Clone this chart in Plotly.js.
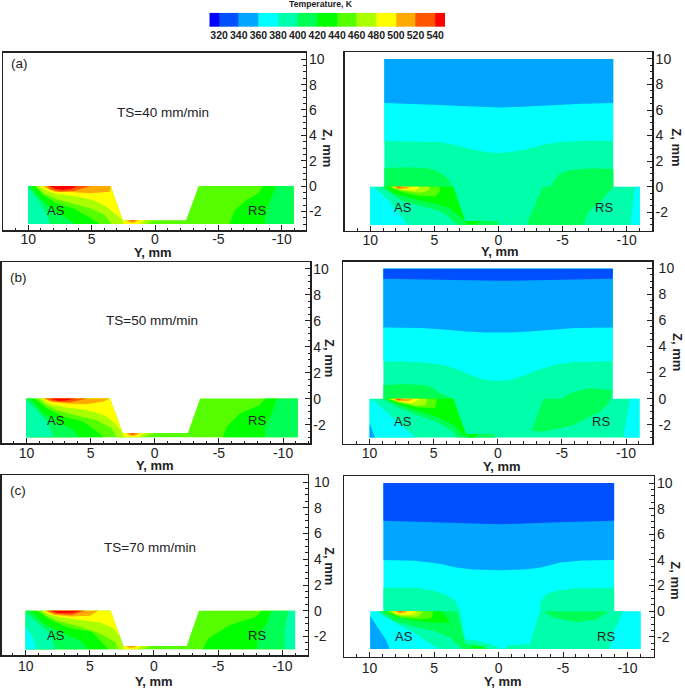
<!DOCTYPE html>
<html><head><meta charset="utf-8">
<script src="https://cdn.plot.ly/plotly-3.0.1.min.js"></script>
<style>html,body{margin:0;padding:0;background:#fff}#chart{width:685px;height:689px}</style>
</head><body><div id="chart"></div>
<script>
const C320='#0050ff',C340='#00a5ff',C360='#00ffff',C380='#00ffaa',C400='#00ff55',C420='#00ff00',C440='#55ff00',C460='#aaff00',C480='#ffff00',C500='#ffaa00',C520='#ff5500',C540='#ff0000';
const bandEdges=[310,320,340,360,380,400,420,440,460,480,500,520,540,550];
const bandIndex=[0,1,2,3,4,5,6,7,8,9,10,11,12];
const bandColors=['#0000ff',C320,C340,C360,C380,C400,C420,C440,C460,C480,C500,C520,C540];
const legendTicks=[320,340,360,380,400,420,440,460,480,500,520,540];

// (a) left
const aL_base=[[10,0],[3.5,0],[2.55,-2.7],[-2.45,-2.7],[-3.45,0],[-10.95,0],[-10.95,-3],[10,-3]];
const aL_420=[[10,0],[9.47,0],[8.82,-.71],[7.76,-1.37],[6.45,-1.76],[5.26,-2.42],[4.39,-3],[10,-3]];
const aL_400=[[10,0],[9.82,0],[9.08,-.97],[8.03,-1.89],[7.1,-2.42],[6.32,-3],[10,-3]];
const aL_380=[[10,-.1],[9.21,-1.1],[8.55,-2.16],[8.29,-3],[10,-3]];
const aL_460=[[9.39,0],[3.5,0],[2.55,-2.7],[2.37,-3],[3.42,-3],[3.95,-2.29],[5.13,-1.76],[6.58,-1.37],[7.76,-1.05],[8.82,-.58]];
const aL_480=[[9.13,0],[3.5,0],[2.55,-2.7],[3.16,-2.16],[3.82,-1.63],[4.87,-1.1],[6.45,-.79],[7.76,-.63],[8.55,-.37]];
const aL_500=[[8.8,0],[3.5,0],[3.55,-.45],[5.13,-.58],[6.71,-.47],[7.89,-.45],[8.55,-.18]];
const aL_520=[[8.5,0],[8.29,-.26],[7.5,-.45],[6.32,-.37],[5.13,0]];
const aL_540=[[8.29,0],[7.9,-.21],[7.25,-.32],[6.6,-.21],[6.13,0]];
const aL_g460=[[2.55,-2.7],[.13,-2.7],[.65,-3],[3.2,-3]];
const aL_g480=[[2.55,-2.7],[.8,-2.7],[1.2,-3],[2.5,-3]];
const aL_g500=[[2.3,-2.7],[1.3,-2.7],[1.6,-2.87],[2,-2.87]];
const aL_g520=[[2,-2.7],[1.5,-2.7],[1.75,-2.8]];
const aL_r420=[[-8.5,0],[-8.16,-.58],[-7.24,-1.1],[-6.3,-1.89],[-5.87,-3],[-8.68,-3],[-8.8,-1.89],[-9.2,-.84],[-9.55,0]];
const aL_r400=[[-9.55,0],[-10.95,0],[-10.95,-3],[-8.68,-3],[-8.8,-1.89],[-9.2,-.84]];
const aL_layers=[[C440,aL_base],[C420,aL_420],[C400,aL_400],[C380,aL_380],[C460,aL_460],[C480,aL_480],[C500,aL_500],[C520,aL_520],[C540,aL_540],[C460,aL_g460],[C480,aL_g480],[C500,aL_g500],[C520,aL_g520],[C420,aL_r420],[C400,aL_r400]];

// (a) right
const outlineA=[[8.9,10],[-8.95,10],[-8.95,0],[-11.03,0],[-11.03,-3],[10,-3],[10,0],[8.9,0]];
const aR_cyan=[[8.9,3.58],[6,3.56],[4.55,3.5],[3.5,3.28],[2.2,2.95],[1,2.72],[0,2.64],[-1,2.72],[-2.2,2.95],[-3.5,3.28],[-4.8,3.5],[-6.5,3.58],[-8.95,3.6],[-8.95,10],[8.9,10]];
const aR_blue=[[8.9,6.55],[6.5,6.5],[4.55,6.4],[3,6.32],[1.5,6.24],[0,6.2],[-1.5,6.24],[-3,6.32],[-4.5,6.42],[-6.5,6.5],[-8.95,6.55],[-8.95,10],[8.9,10]];
const aR_400=[[8.9,1.44],[7.15,1.51],[5.6,1.44],[5,1.3],[4.55,1.1],[4.1,.75],[3.77,.39],[3.25,-.78],[2.6,-2.69],[0,-2.69],[0,-3],[3.25,-3],[4.03,-2.22],[4.81,-1.83],[6.37,-1.44],[7.67,-1.04],[9.1,0],[8.9,0]];
const aR_420=[[8.84,0],[8.19,-.52],[6.37,-1.04],[4.94,-1.31],[3.77,-1.7],[2.6,-2.74],[3.51,0]];
const aR_s420=[[2.5,-2.69],[1.2,-2.69],[1.8,-2.95],[2.6,-2.95]];
const aR_440=[[8.58,0],[7.67,-.39],[6.37,-.7],[4.94,-.78],[4.55,-.39],[4.6,0]];
const aR_460=[[8.45,0],[7.54,-.31],[6.11,-.47],[5.38,-.31],[5.38,0]];
const aR_480=[[8.32,0],[7.41,-.26],[6.5,-.31],[6.11,0]];
const aR_500=[[8.19,0],[7.8,-.18],[7.15,-.16],[6.89,0]];
const aR_520=[[8.06,0],[7.8,-.1],[7.41,0]];
const aR_c360=[[10,0],[10,-3],[7.1,-3],[7.67,-2.22],[8.71,-.91],[9.62,-.13]];
const aR_r400=[[-2.26,-2.79],[-2.47,-3],[-6.63,-3],[-7.02,-1.96],[-7.93,-1.17],[-8.97,0],[-8.97,1.38],[-7.15,1.44],[-5.72,1.31],[-5.1,1.15],[-4.68,.91],[-4.03,0],[-3.46,0]];
const aR_r360=[[-10.66,0],[-10.27,-3],[-11.03,-3],[-11.03,0]];
const aR_layers=[[C380,outlineA],[C360,aR_cyan],[C340,aR_blue],[C400,aR_400],[C420,aR_420],[C420,aR_s420],[C440,aR_440],[C460,aR_460],[C480,aR_480],[C500,aR_500],[C520,aR_520],[C360,aR_c360],[C400,aR_r400],[C360,aR_r360]];

// (b) left
const bL_base=[[10,0],[3.49,0],[2.5,-2.65],[-2.58,-2.65],[-3.54,0],[-11.15,0],[-11.15,-2.97],[10,-2.97]];
const bL_420=[[10,0],[9.35,0],[8.44,-.74],[7.14,-1.38],[5.57,-1.77],[4.66,-2.41],[4,-2.97],[10,-2.97]];
const bL_400=[[10,0],[9.74,0],[8.7,-1.13],[7.53,-1.9],[6.5,-2.28],[5.9,-2.97],[10,-2.97]];
const bL_380=[[10,-.1],[9.2,-.87],[8.3,-1.9],[7.9,-2.97],[10,-2.97]];
const bL_460=[[9.09,0],[3.49,0],[2.5,-2.65],[2.35,-2.97],[2.97,-2.97],[3.36,-2.28],[4.53,-1.64],[6.1,-1.3],[7.66,-.87],[8.57,-.44]];
const bL_480=[[8.83,0],[3.49,0],[2.5,-2.65],[3.1,-1.9],[3.88,-1.3],[5.31,-.87],[6.88,-.69],[8.18,-.44]];
const bL_500=[[8.7,0],[3.49,0],[4,-.23],[5.31,-.44],[6.88,-.38],[8.18,-.23]];
const bL_520=[[8.57,0],[7.9,-.23],[6.6,-.28],[5.26,0]];
const bL_540=[[8.18,0],[7.5,-.18],[6.9,-.15],[6.2,0]];
const bL_g460=[[2.5,-2.65],[.1,-2.65],[.9,-2.97],[3.1,-2.97]];
const bL_g480=[[2.5,-2.65],[.8,-2.65],[1.2,-2.97],[2.4,-2.97]];
const bL_g500=[[2.2,-2.65],[1.2,-2.65],[1.5,-2.85],[1.95,-2.85]];
const bL_g520=[[1.95,-2.65],[1.5,-2.65],[1.7,-2.8]];
const bL_r420=[[-8.6,0],[-8.2,-.49],[-6.66,-1.13],[-5.63,-2.15],[-5.3,-2.97],[-8.6,-2.97],[-8.6,-2.15],[-9.14,-1.13],[-9.53,0]];
const bL_r400=[[-9.53,0],[-11.15,0],[-11.15,-2.97],[-8.6,-2.97],[-8.6,-2.15],[-9.14,-1.13]];
const bL_layers=[[C440,bL_base],[C420,bL_420],[C400,bL_400],[C380,bL_380],[C460,bL_460],[C480,bL_480],[C500,bL_500],[C520,bL_520],[C540,bL_540],[C460,bL_g460],[C480,bL_g480],[C500,bL_g500],[C520,bL_g520],[C420,bL_r420],[C400,bL_r400]];

// (b) right
const outlineB=[[8.92,9.95],[-8.97,9.95],[-8.97,0],[-11.05,0],[-11.05,-2.97],[10,-2.97],[10,0],[8.92,0]];
const bR_cyan=[[8.92,2.84],[7.1,2.84],[5.5,2.75],[4.2,2.55],[3.2,2.25],[2,1.75],[1,1.45],[0,1.36],[-1,1.45],[-2,1.75],[-3.3,2.25],[-4.5,2.6],[-5.9,2.79],[-7.5,2.87],[-8.97,2.89],[-8.97,9.95],[8.92,9.95]];
const bR_340=[[8.92,5.45],[6,5.42],[4,5.28],[2.5,5.14],[1,5.06],[0,5.04],[-1,5.06],[-2.5,5.14],[-4,5.28],[-6,5.42],[-8.97,5.45],[-8.97,9.95],[8.92,9.95]];
const bR_320=[[8.92,9.18],[5,9.12],[2,9.05],[0,9.03],[-2,9.05],[-5,9.12],[-8.97,9.18],[-8.97,9.95],[8.92,9.95]];
const bR_400=[[8.92,1.05],[7.1,1.13],[5.54,1],[5,.78],[4.5,.41],[3.46,0],[3.2,-.74],[2.47,-2.71],[.34,-2.71],[.2,-2.97],[3.2,-2.97],[3.46,-2.53],[4.76,-1.76],[6.32,-1.25],[7.62,-.74],[9.05,0],[8.92,0]];
const bR_420=[[8.79,0],[7.62,-.49],[6.06,-1],[4.76,-1.38],[3.46,-2.02],[2.55,-2.92],[2.47,-2.79],[3.2,-.74],[3.46,0]];
const bR_s420=[[2.47,-2.71],[1.5,-2.71],[1.9,-2.97],[2.3,-2.97]];
const bR_440=[[8.66,0],[7.62,-.36],[6.32,-.66],[4.89,-.74],[4.76,0]];
const bR_460=[[8.5,0],[7.62,-.28],[6.32,-.54],[5.59,-.49],[5.54,0]];
const bR_480=[[8.3,0],[7.7,-.23],[6.7,-.36],[6.06,0]];
const bR_500=[[8.15,0],[7.8,-.18],[7,-.2],[6.58,0]];
const bR_520=[[8,0],[7.75,-.13],[7.36,0]];
const bR_c360=[[10,0],[10,-2.97],[6.45,-2.97],[7.36,-2.15],[8.66,-1],[9.57,-.23]];
const bR_c340=[[10,-1.9],[9.57,-2.97],[10,-2.97]];
const bR_r400=[[-2.63,-2.46],[-3.56,0],[-5,0],[-5.64,.41],[-7.07,.79],[-8.89,.66],[-8.8,0],[-8.63,-.36],[-7.98,-1],[-5.9,-2.02],[-3.56,-2.53]];
const bR_r360=[[-10.33,0],[-9.8,-2.97],[-11.05,-2.97],[-11.05,0]];
const bR_layers=[[C380,outlineB],[C360,bR_cyan],[C340,bR_340],[C320,bR_320],[C400,bR_400],[C420,bR_420],[C420,bR_s420],[C440,bR_440],[C460,bR_460],[C480,bR_480],[C500,bR_500],[C520,bR_520],[C360,bR_c360],[C340,bR_c340],[C400,bR_r400],[C360,bR_r360]];

// (c) left
const cL_base=[[10,0],[3.38,0],[2.39,-2.74],[-2.55,-2.74],[-3.5,0],[-11,0],[-11,-3],[10,-3]];
const cL_420=[[10,0],[9.14,0],[8.1,-.71],[6.55,-1.37],[4.86,-1.63],[4.08,-2.42],[3.56,-3],[10,-3]];
const cL_400=[[10,0],[9.66,0],[8.62,-.97],[7.06,-1.76],[5.77,-2.29],[5.1,-3],[10,-3]];
const cL_380=[[10,-.18],[9,-.97],[8.1,-1.76],[7.7,-3],[10,-3]];
const cL_360=[[10,-1.24],[9.4,-2.16],[9.2,-3],[10,-3]];
const cL_460=[[8.88,0],[3.38,0],[2.39,-2.74],[2.4,-3],[2.78,-3],[3.04,-2.42],[4.2,-1.76],[5.77,-1.24],[7.58,-.76],[8.5,-.32]];
const cL_480=[[8.68,0],[3.38,0],[2.65,-2.03],[3.17,-1.37],[4.2,-.92],[5.77,-.71],[7.32,-.5],[8.23,-.26]];
const cL_500=[[8.5,0],[4.34,0],[4.99,-.39],[6.55,-.45],[7.84,-.32]];
const cL_520=[[8.36,0],[7.7,-.24],[6.4,-.34],[5.38,0]];
const cL_540=[[8.1,0],[7.45,-.18],[6.4,-.18],[5.64,0]];
const cL_g460=[[2.39,-2.74],[.3,-2.74],[.8,-3],[2.78,-3]];
const cL_g480=[[2.39,-2.74],[1,-2.74],[1.3,-3],[2.4,-3]];
const cL_g500=[[2.2,-2.74],[1.3,-2.74],[1.6,-2.88],[1.95,-2.88]];
const cL_r420=[[-8.39,0],[-8,-.45],[-5.92,-1.1],[-4.23,-2.16],[-3.79,-3],[-8,-3],[-8.13,-2.03],[-8.78,-.97],[-9.17,0]];
const cL_r400=[[-9.17,0],[-10.47,0],[-10.2,-1.5],[-10.2,-3],[-8,-3],[-8.13,-2.03],[-8.78,-.97]];
const cL_r380=[[-10.47,0],[-11,0],[-11,-3],[-10.2,-3],[-10.2,-1.5]];
const cL_layers=[[C440,cL_base],[C420,cL_420],[C400,cL_400],[C380,cL_380],[C360,cL_360],[C460,cL_460],[C480,cL_480],[C500,cL_500],[C520,cL_520],[C540,cL_540],[C460,cL_g460],[C480,cL_g480],[C500,cL_g500],[C420,cL_r420],[C400,cL_r400],[C380,cL_r380]];

// (c) right
const outlineC=[[8.92,10],[-8.96,10],[-8.96,0],[-11.03,0],[-11.03,-2.95],[9.95,-2.95],[9.95,0],[8.92,0]];
const cR_340=[[8.92,4],[6.5,3.93],[4.57,3.7],[3.3,3.42],[2,3.26],[0,3.19],[-2,3.26],[-3.3,3.42],[-4.8,3.8],[-6.5,3.96],[-8.96,4],[-8.96,10],[8.92,10]];
const cR_320=[[8.92,7.05],[4,6.92],[1.5,6.82],[0,6.79],[-1.5,6.82],[-4,6.92],[-8.96,7.05],[-8.96,10],[8.92,10]];
const cR_380=[[8.92,1.83],[6.35,1.83],[5,1.6],[4,1.25],[3.35,.86],[2.96,0],[2.58,-2.18],[1.55,-2.31],[.77,-2.56],[0,-2.82],[0,-2.95],[4.56,-2.95],[5.28,-2.56],[6.57,-1.67],[7.6,-1.15],[8.89,-.38],[9.4,0],[8.92,0]];
const cR_c340=[[9.95,-.38],[9.28,-1.41],[8.76,-2.18],[8.43,-2.95],[9.95,-2.95]];
const cR_400=[[9.28,0],[8.12,-.77],[6.57,-1.2],[5,-1.54],[3.74,-2.05],[2.84,-2.95],[.77,-2.95],[1.16,-2.69],[2.58,-2.56],[3.22,0]];
const cR_s420=[[2.19,-2.74],[1.68,-2.69],[1.03,-2.9],[1.93,-2.9]];
const cR_420=[[8.89,0],[7.86,-.51],[6.31,-.77],[5,-.9],[3.74,-.9],[4.38,0]];
const cR_440=[[8.76,0],[7.6,-.51],[5.93,-.64],[5.15,-.51],[5.08,0]];
const cR_460=[[8.5,0],[7.6,-.38],[6.31,-.44],[5.8,0]];
const cR_480=[[8.3,0],[7.8,-.26],[6.8,-.28],[6.3,0]];
const cR_500=[[8.1,0],[7.7,-.15],[7.2,-.13],[7.09,0]];
const cR_520=[[7.95,0],[7.6,-.08],[7.3,0]];
const cR_r380=[[-8.96,1.83],[-5.85,1.78],[-4.6,1.62],[-3.77,1.38],[-3.25,.73],[-3.2,0],[-2.45,-2.56],[-.64,-2.69],[-.5,-2.95],[-8.63,-2.95],[-8.76,-1.8],[-9.15,-1.15],[-9.66,0],[-8.96,0]];
const cR_r400=[[-3.48,0],[-4.25,-.51],[-6.06,-.85],[-7.6,-.64],[-8.38,-.13],[-8.38,0]];
const cR_layers=[[C360,outlineC],[C340,cR_340],[C320,cR_320],[C380,cR_380],[C340,cR_c340],[C400,cR_400],[C420,cR_s420],[C420,cR_420],[C440,cR_440],[C460,cR_460],[C480,cR_480],[C500,cR_500],[C520,cR_520],[C380,cR_r380],[C400,cR_r400]];

const yTicks=[10,5,0,-5,-10], yTickText=['10','5','0','-5','-10'];
const zTicks=[10,8,6,4,2,0,-2], zTickText=['10','8','6','4','2','0','-2'];

const W=685,H=689;
const frames=[
 {L:3.3,R:305.7,T:52.7,B:230,xr:[11.97,-11.89],zr:[-3.47,10.52],layers:aL_layers,ts:-4,zs:-1},
 {L:344.7,R:652.3,T:52.3,B:230.7,xr:[11.99,-12],zr:[-3.45,10.52],layers:aR_layers,ts:-4,zs:-1},
 {L:1.7,R:310,T:262,B:443.3,xr:[11.93,-12.1],zr:[-3.44,10.52],layers:bL_layers,ts:-4,zs:-1},
 {L:343.3,R:652.3,T:261.7,B:443.7,xr:[12.05,-12.05],zr:[-3.45,10.49],layers:bR_layers,ts:-4,zs:2},
 {L:1.7,R:307.7,T:475,B:655,xr:[11.87,-11.98],zr:[-3.44,10.55],layers:cL_layers,ts:-2,zs:2},
 {L:344,R:653.7,T:476,B:656.7,xr:[11.98,-12.03],zr:[-3.55,10.55],layers:cR_layers,ts:-2,zs:-1}
];
const FF='Liberation Sans, Arial, sans-serif', INK='#222222';
const traces=[], layout={width:W,height:H,margin:{l:0,r:0,t:0,b:0},paper_bgcolor:'#fff',plot_bgcolor:'#fff',showlegend:false,font:{family:FF,color:INK,size:14},annotations:[]};

frames.forEach((f,i)=>{
  const n=i+1, xa=n===1?'x':'x'+n, ya=n===1?'y':'y'+n;
  f.layers.forEach(([color,poly])=>{
    traces.push({type:'scatter',mode:'lines',xaxis:xa,yaxis:ya,x:poly.map(p=>p[0]),y:poly.map(p=>p[1]),fill:'toself',fillcolor:color,line:{width:0,color:color},hoverinfo:'skip'});
  });
  layout['xaxis'+(n===1?'':n)]={domain:[f.L/W,f.R/W],range:f.xr,anchor:ya,showgrid:false,zeroline:false,showline:true,mirror:true,linewidth:1.5,linecolor:INK,
    tickmode:'array',tickvals:yTicks,ticktext:yTickText,ticks:'inside',ticklen:5,tickwidth:1,tickcolor:INK,ticklabelstandoff:f.ts,tickfont:{size:14,color:INK,family:FF},
    minor:{dtick:1,ticks:'inside',ticklen:2.5,tickwidth:1,tickcolor:INK,showgrid:false}};
  layout['yaxis'+(n===1?'':n)]={domain:[1-f.B/H,1-f.T/H],range:f.zr,anchor:xa,side:'right',showgrid:false,zeroline:false,showline:true,mirror:true,linewidth:1.5,linecolor:INK,
    tickmode:'array',tickvals:zTicks,ticktext:zTickText,ticks:'inside',ticklen:5,tickwidth:1,tickcolor:INK,ticklabelstandoff:f.zs,tickfont:{size:14,color:INK,family:FF},
    minor:{dtick:.5,ticks:'inside',ticklen:2.5,tickwidth:1,tickcolor:INK,showgrid:false}};
});

// colour legend
traces.push({type:'heatmap',xaxis:'x7',yaxis:'y7',x:bandEdges,y:[0,1],z:[bandIndex],zmin:-.5,zmax:12.5,showscale:false,hoverinfo:'skip',zsmooth:false,
  colorscale:bandColors.flatMap((c,k)=>[[k/13,c],[(k+1)/13,c]])});
layout.xaxis7={domain:[209.3/W,445/W],range:[310,550],anchor:'y7',showgrid:false,zeroline:false,showline:false,ticks:'',tickmode:'array',tickvals:legendTicks,tickangle:0,tickfont:{size:10.5,color:INK,family:FF,weight:700}};
layout.yaxis7={domain:[1-27/H,1-12.7/H],range:[0,1],anchor:'x7',showgrid:false,zeroline:false,showline:false,showticklabels:false,ticks:''};

function ann(text,px,py,size,extra){
  layout.annotations.push(Object.assign({text,xref:'paper',yref:'paper',x:px/W,y:1-py/H,xanchor:'center',yanchor:'middle',showarrow:false,font:{size,color:INK,family:FF}},extra||{}));
}
function dataAnn(n,text,y,z,size){
  layout.annotations.push({text,xref:n===1?'x':'x'+n,yref:n===1?'y':'y'+n,x:y,y:z,xanchor:'center',yanchor:'middle',showarrow:false,font:{size,color:INK,family:FF}});
}
ann('<b>Temperature, K</b>',321,4.5,8.7);
ann('(a)',19,63,13.5); ann('(b)',18,277,13.5); ann('(c)',18,490,13.5);
dataAnn(1,'TS=40 mm/min',-.63,5.84,13.5);
dataAnn(3,'TS=50 mm/min',.2,6.05,13.5);
dataAnn(5,'TS=70 mm/min',.3,4.92,13.5);
[[1,7.84,-1.9,-8.05,-1.9],[2,7.43,-1.64,-8.23,-1.64],[3,7.7,-1.72,-7.96,-1.72],[4,7.37,-1.76,-8.07,-1.76],[5,7.66,-1.93,-8.03,-1.93],[6,7.3,-1.98,-8.31,-1.98]].forEach(a=>{
  dataAnn(a[0],'AS',a[1],a[2],13); dataAnn(a[0],'RS',a[3],a[4],13);
});
[[153.3,252.5],[500,252],[155,465.5],[501.7,466],[154,681],[502.7,681]].forEach(p=>ann('<b>Y, mm</b>',p[0],p[1],13));
[[328,148],[676.7,147],[330,358],[677.7,351.7],[330,566],[675.7,580]].forEach(p=>ann('<b>Z, mm</b>',p[0],p[1],13,{textangle:90}));

Plotly.newPlot('chart',traces,layout,{displayModeBar:false,staticPlot:true});
</script></body></html>
